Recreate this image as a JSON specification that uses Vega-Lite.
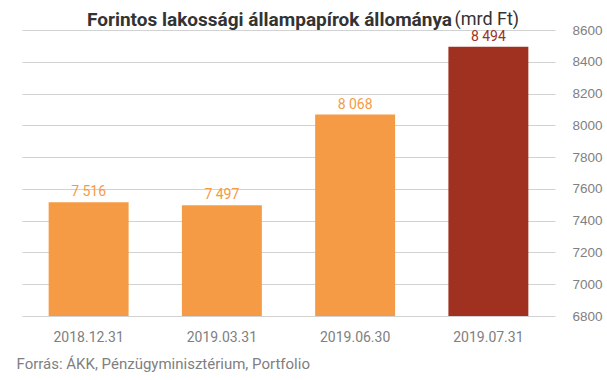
{
  "$schema": "https://vega.github.io/schema/vega-lite/v6.json",
  "width": 533,
  "height": 286,
  "autosize": {"type": "none"},
  "padding": {"left": 22, "top": 30, "right": 52, "bottom": 64},
  "background": "#ffffff",
  "title": {
    "text": "Forintos lakossági állampapírok állománya",
    "anchor": "start",
    "frame": "group",
    "dx": 65,
    "dy": 26,
    "offset": 6,
    "font": "Roboto",
    "fontSize": 19,
    "fontWeight": "bold",
    "color": "#333333"
  },
  "data": {
    "values": [
      {"date": "2018.12.31", "value": 7516, "label": "7 516", "kind": "korábbi"},
      {"date": "2019.03.31", "value": 7497, "label": "7 497", "kind": "korábbi"},
      {"date": "2019.06.30", "value": 8068, "label": "8 068", "kind": "korábbi"},
      {"date": "2019.07.31", "value": 8494, "label": "8 494", "kind": "legutóbbi"}
    ]
  },
  "encoding": {
    "x": {
      "field": "date",
      "type": "nominal",
      "sort": null,
      "scale": {"paddingInner": 0.4, "paddingOuter": 0.2},
      "axis": {
        "labelAngle": 0,
        "labelFont": "Roboto",
        "labelFontSize": 14,
        "labelColor": "#808080",
        "labelPadding": 14,
        "ticks": false,
        "domain": false,
        "title": "Forrás: ÁKK, Pénzügyminisztérium, Portfolio",
        "titleAnchor": "start",
        "titleAlign": "left",
        "titleBaseline": "alphabetic",
        "titleX": -6,
        "titleY": 52,
        "titleFont": "Roboto",
        "titleFontSize": 15,
        "titleFontWeight": "normal",
        "titleColor": "#808080"
      }
    },
    "y": {
      "field": "value",
      "type": "quantitative",
      "scale": {"domain": [6800, 8600], "zero": false, "nice": false},
      "axis": {
        "orient": "right",
        "values": [6800, 7000, 7200, 7400, 7600, 7800, 8000, 8200, 8400, 8600],
        "format": "d",
        "grid": true,
        "gridColor": "#d2d2d2",
        "domain": false,
        "ticks": false,
        "labelPadding": 17,
        "labelFont": "Liberation Sans",
        "labelFontSize": 13.5,
        "labelColor": "#808080",
        "title": "(mrd Ft)",
        "titleAngle": 0,
        "titleAlign": "left",
        "titleBaseline": "alphabetic",
        "titleX": -101,
        "titleY": -6,
        "titleFont": "Roboto",
        "titleFontSize": 18,
        "titleFontWeight": "normal",
        "titleColor": "#333333"
      }
    },
    "color": {
      "field": "kind",
      "type": "nominal",
      "scale": {"domain": ["korábbi", "legutóbbi"], "range": ["#F59B46", "#A03121"]},
      "legend": null
    }
  },
  "layer": [
    {
      "mark": {"type": "bar"},
      "encoding": {"y2": {"datum": 6800}}
    },
    {
      "mark": {"type": "text", "baseline": "alphabetic", "dy": -6, "font": "Roboto", "fontSize": 14},
      "encoding": {"text": {"field": "label"}}
    }
  ],
  "config": {"view": {"stroke": null}}
}
